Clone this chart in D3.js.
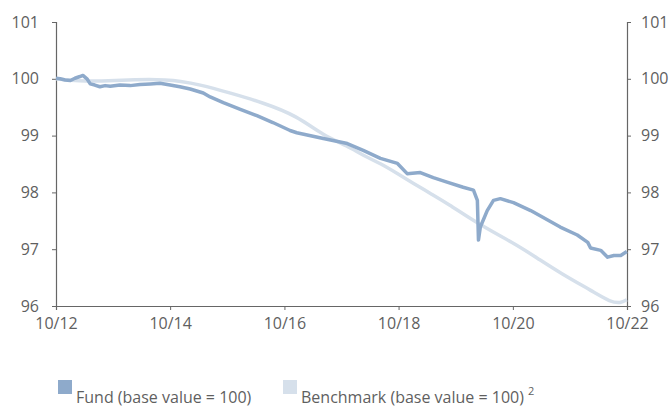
<!DOCTYPE html>
<html>
<head>
<meta charset="utf-8">
<script src="https://cdn.jsdelivr.net/npm/d3@7"></script>
<style>
    body { margin: 0; background: #fff; }
    text { font-family: "Open Sans", sans-serif; fill: #5f5f5f; }
</style>
</head>
<body>
<div id="chart"></div>
<script>

// data
let fundDates = ["2012-10-01","2012-10-27","2012-11-28","2013-01-01","2013-01-30","2013-03-03","2013-03-22","2013-04-17",
    "2013-05-08","2013-06-06","2013-07-09","2013-08-11","2013-09-13","2013-11-14","2014-01-19","2014-03-22","2014-05-27",
    "2014-07-28","2014-10-01","2014-12-02","2015-02-06","2015-05-01","2015-06-14","2015-09-06","2015-12-24","2016-04-08",
    "2016-07-19","2016-11-06","2016-12-19","2017-06-07","2017-11-07","2018-02-17","2018-06-07","2018-09-24","2018-11-25",
    "2019-02-17","2019-05-11","2019-08-07","2019-11-18","2020-01-23","2020-02-17","2020-02-24","2020-03-07","2020-04-20",
    "2020-05-30","2020-07-13","2020-10-05","2021-01-23","2021-07-31","2021-11-17","2022-01-23","2022-02-10","2022-04-16",
    "2022-05-30","2022-07-09","2022-08-22","2022-09-30"];
let fundValues = [100.01, 100.0, 99.98, 99.97, 100.01, 100.04, 100.06, 100.0,
    99.91, 99.89, 99.86, 99.88, 99.87, 99.89, 99.88, 99.90, 99.91,
    99.92, 99.89, 99.86, 99.82, 99.75, 99.68, 99.58, 99.46, 99.35,
    99.23, 99.09, 99.05, 98.95, 98.86, 98.74, 98.60, 98.51, 98.33,
    98.35, 98.26, 98.18, 98.09, 98.04, 97.86, 97.16, 97.39, 97.68,
    97.86, 97.89, 97.82, 97.68, 97.39, 97.25, 97.12, 97.02, 96.98,
    96.86, 96.89, 96.89, 96.96];

let benchDates = ["2012-10-01","2013-03-03","2013-07-09","2014-01-19","2014-05-27","2014-08-28","2014-12-02","2015-04-08",
    "2015-10-19","2016-05-18","2016-12-19","2017-06-07","2017-11-07","2018-02-17","2018-06-07","2018-09-24","2019-01-04",
    "2019-04-23","2019-08-07","2020-03-07","2020-10-05","2021-03-08","2021-07-31","2022-02-28","2022-06-17","2022-08-22",
    "2022-09-30"];
let benchValues = [100.0, 99.96, 99.96, 99.98, 99.99, 99.98, 99.96, 99.90,
    99.75, 99.58, 99.35, 99.00, 98.82, 98.65, 98.51, 98.33, 98.16,
    97.98, 97.81, 97.42, 97.11, 96.84, 96.58, 96.25, 96.07, 96.05,
    96.11];

let yTicks = [96, 97, 98, 99, 100, 101];
let xTickLabels = ["10/12", "10/14", "10/16", "10/18", "10/20", "10/22"];
let legendLabels = ["Fund (base value = 100)", "Benchmark (base value = 100)"];
let colors = ["#8eaacb", "#d6e0eb"];

let parseDate = d3.timeParse("%Y-%m-%d");

let margin = {top: 22, right: 45, bottom: 102, left: 56};
let width = 672 - margin.left - margin.right;
let height = 408 - margin.top - margin.bottom;

let svg = d3.select("#chart").append("svg")
    .attr("width", 672)
    .attr("height", 408)
    .append("g")
    .attr("transform", `translate(${margin.left}, ${margin.top})`);

let x = d3.scaleTime()
    .domain([parseDate("2012-10-01"), parseDate("2022-10-01")])
    .range([0, width]);

let y = d3.scaleLinear()
    .domain([96, 101])
    .range([height, 0]);

// x axis
let xTickDates = xTickLabels.map(s => parseDate("20" + s.split("/")[1] + "-10-01"));
let xAxis = d3.axisBottom(x)
    .tickValues(xTickDates)
    .tickFormat((d, i) => xTickLabels[i])
    .tickSize(4)
    .tickPadding(8);

let xAxisGroup = svg.append("g")
    .attr("transform", `translate(0, ${height})`)
    .call(xAxis);

// y axes
let yAxisL = d3.axisLeft(y).tickValues(yTicks).tickFormat(d3.format("d")).tickSize(4).tickPadding(13);
let yAxisR = d3.axisRight(y).tickValues(yTicks).tickFormat(d3.format("d")).tickSize(4).tickPadding(10);

let yGroupL = svg.append("g").call(yAxisL);
let yGroupR = svg.append("g").attr("transform", `translate(${width}, 0)`).call(yAxisR);

[xAxisGroup, yGroupL, yGroupR].forEach(g => {
    g.select(".domain").attr("stroke", "#666").attr("stroke-width", 1.2);
    g.selectAll(".tick line").attr("stroke", "#666");
    g.selectAll(".tick text")
        .attr("font-size", "16px")
        .attr("fill", "#5f5f5f")
        .style("font-family", "'Open Sans', sans-serif");
});

// lines
let benchData = benchDates.map((d, i) => ({date: parseDate(d), value: benchValues[i]}));
let fundData = fundDates.map((d, i) => ({date: parseDate(d), value: fundValues[i]}));

let benchLine = d3.line()
    .x(d => x(d.date))
    .y(d => y(d.value))
    .curve(d3.curveBasis);

let fundLine = d3.line()
    .x(d => x(d.date))
    .y(d => y(d.value));

svg.append("path")
    .datum(benchData)
    .attr("fill", "none")
    .attr("stroke", colors[1])
    .attr("stroke-width", 3.5)
    .attr("d", benchLine);

svg.append("path")
    .datum(fundData)
    .attr("fill", "none")
    .attr("stroke", colors[0])
    .attr("stroke-width", 3.5)
    .attr("stroke-linejoin", "round")
    .attr("d", fundLine);

// legend
let legend = d3.select("svg").append("g");
let legendX = [58, 283];

legendLabels.forEach((label, i) => {
    legend.append("rect")
        .attr("x", legendX[i])
        .attr("y", 380)
        .attr("width", 14)
        .attr("height", 14)
        .attr("fill", colors[i]);

    let t = legend.append("text")
        .attr("x", legendX[i] + 18)
        .attr("y", 403)
        .attr("font-size", "16px")
        .text(label);

    if (i === 1) {
        t.append("tspan")
            .attr("dx", 4)
            .attr("dy", -8)
            .attr("font-size", "11px")
            .text("2");
    }
});

</script>
</body>
</html>
